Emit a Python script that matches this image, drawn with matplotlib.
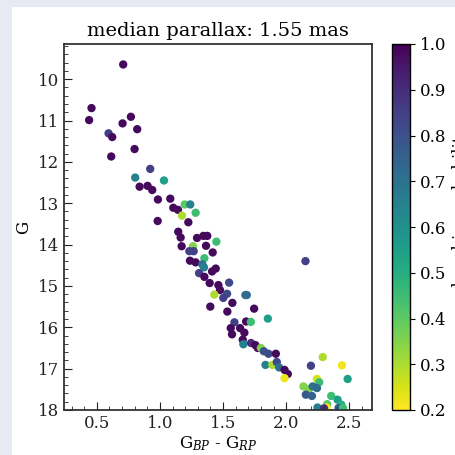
import matplotlib
matplotlib.use("Agg")
import matplotlib.pyplot as plt
from matplotlib.patches import Rectangle
from matplotlib.ticker import MultipleLocator

plt.rcParams['font.family'] = ['DejaVu Serif']
plt.rcParams['mathtext.fontset'] = 'dejavuserif'

# colour BP-RP, G magnitude, membership probability
bp_rp = [0.709, 0.458, 0.439, 0.704, 0.770, 0.820, 0.593, 0.622, 0.799, 0.614,
         0.923, 0.804, 1.032, 0.839, 0.902, 0.939, 0.984, 1.082,
         0.982, 1.106, 1.143, 1.196, 1.240, 1.175, 1.283, 1.225, 1.145, 1.164,
         1.294, 1.344, 1.375, 1.447, 1.172, 1.262, 1.365, 1.233, 1.267, 1.418,
         1.352, 1.238, 1.283, 1.336, 1.349, 1.442, 1.413, 1.310, 2.153, 1.352,
         1.394, 1.463, 1.548, 1.476, 1.532, 1.431, 1.502, 1.677, 1.688, 1.574,
         1.399, 1.746, 1.534, 1.590, 1.683, 1.720, 1.855, 1.561, 1.571, 1.635,
         1.669, 1.656, 1.661, 1.722, 1.756, 1.775, 1.800, 1.823, 1.860, 1.918,
         1.836, 1.891, 1.926, 1.944, 1.987, 2.013, 1.987, 2.196, 2.290, 2.442,
         2.487, 2.244, 2.262, 2.137, 2.177, 2.210, 2.244, 2.156, 2.204, 2.357,
         2.407, 2.325, 2.437, 2.248, 2.320, 2.415, 2.450, 2.300]
g_mag = [9.645, 10.70, 10.99, 11.07, 10.91, 11.21, 11.31, 11.40, 11.69, 11.87,
         12.17, 12.38, 12.45, 12.60, 12.58, 12.68, 12.91, 12.89,
         13.43, 13.11, 13.16, 13.03, 13.03, 13.30, 13.23, 13.46, 13.69, 13.83,
         13.84, 13.79, 13.79, 13.93, 14.04, 14.04, 14.03, 14.16, 14.16, 14.19,
         14.33, 14.39, 14.43, 14.48, 14.55, 14.58, 14.65, 14.69, 14.40, 14.78,
         14.93, 14.98, 14.92, 15.10, 15.19, 15.21, 15.29, 15.22, 15.22, 15.41,
         15.50, 15.55, 15.62, 15.88, 15.86, 15.87, 15.79, 16.02, 16.17, 16.02,
         16.13, 16.30, 16.41, 16.38, 16.43, 16.50, 16.50, 16.58, 16.64, 16.64,
         16.91, 16.91, 16.84, 16.97, 17.03, 17.13, 17.23, 16.93, 16.72, 16.92,
         17.25, 17.25, 17.33, 17.43, 17.50, 17.43, 17.47, 17.63, 17.66, 17.66,
         17.75, 17.86, 17.87, 17.94, 17.94, 17.95, 17.95, 17.96]
prob = [0.98, 0.98, 0.98, 0.98, 0.98, 0.98, 0.85, 0.98, 0.98, 0.98,
        0.85, 0.65, 0.55, 0.98, 0.98, 0.98, 0.98, 0.98,
        0.98, 0.98, 0.98, 0.40, 0.65, 0.30, 0.45, 0.98, 0.98, 0.98,
        0.98, 0.98, 0.98, 0.45, 0.98, 0.35, 0.98, 0.85, 0.85, 0.98,
        0.45, 0.98, 0.98, 0.70, 0.65, 0.98, 0.98, 0.85, 0.85, 0.98,
        0.98, 0.98, 0.82, 0.98, 0.82, 0.30, 0.85, 0.70, 0.72, 0.98,
        0.98, 0.98, 0.98, 0.85, 0.98, 0.45, 0.55, 0.98, 0.98, 0.98,
        0.98, 0.98, 0.65, 0.90, 0.98, 0.98, 0.35, 0.80, 0.82, 0.98,
        0.65, 0.30, 0.82, 0.70, 0.98, 0.98, 0.22, 0.85, 0.30, 0.22,
        0.55, 0.25, 0.45, 0.35, 0.35, 0.70, 0.72, 0.78, 0.75, 0.45,
        0.55, 0.40, 0.50, 0.65, 0.20, 0.75, 0.45, 0.90]

W, H = 456, 455
fig = plt.figure(figsize=(W / 100, H / 100), dpi=100, facecolor='#e7eaf3')
fig.add_artist(Rectangle((12 / W, 0), 1, 1 - 7 / H, transform=fig.transFigure,
                         facecolor='white', edgecolor='none', zorder=-10))

ax = fig.add_axes([64 / W, 1 - 410 / H, (372 - 64) / W, (410 - 44) / H])
sc = ax.scatter(bp_rp, g_mag, c=prob, cmap='viridis_r', vmin=0.2, vmax=1.0,
                s=36, edgecolors='none')
ax.set_xlim(0.24, 2.68)
ax.set_ylim(18, 9.15)
ax.xaxis.set_major_locator(MultipleLocator(0.5))
ax.xaxis.set_minor_locator(MultipleLocator(0.1))
ax.yaxis.set_major_locator(MultipleLocator(1))
ax.yaxis.set_minor_locator(MultipleLocator(0.2))
ax.tick_params(which='both', direction='in', labelsize=12, colors='#222222')
ax.tick_params(which='major', length=6)
ax.tick_params(which='minor', length=3)
for sp in ax.spines.values():
    sp.set_linewidth(1.3)
    sp.set_color('#333333')
ax.set_xlabel(r'G$_{BP}$ - G$_{RP}$', fontsize=12, labelpad=2)
ax.set_ylabel('G', fontsize=12)
ax.set_title('median parallax: 1.55 mas', fontsize=14, pad=6)

cax = fig.add_axes([392 / W, 1 - 410 / H, (410 - 392) / W, (410 - 44) / H])
cb = fig.colorbar(sc, cax=cax)
cb.set_ticks([0.2, 0.3, 0.4, 0.5, 0.6, 0.7, 0.8, 0.9, 1.0])
cb.ax.tick_params(labelsize=12)
cb.outline.set_linewidth(1.0)
cb.set_label('membership probability', fontsize=12)

fig.savefig('out.png', dpi=100, facecolor=fig.get_facecolor())
